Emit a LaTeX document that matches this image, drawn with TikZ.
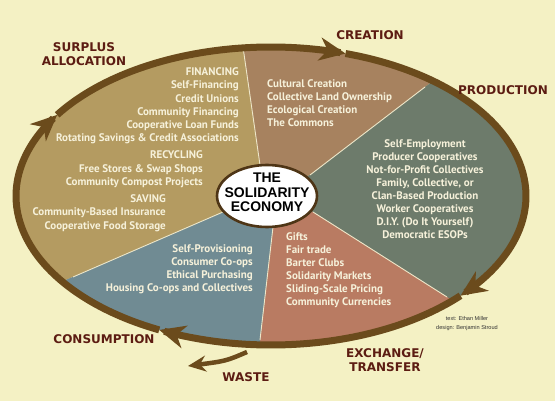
\documentclass[tikz,border=0pt]{standalone}
\usepackage{fontspec}
\setmainfont{PT Sans}
\newfontfamily\labfont{DejaVu Sans}
\newfontfamily\corefont{Liberation Sans}
\newfontfamily\credfont{Liberation Sans}
\usetikzlibrary{arrows.meta,shapes.geometric}
\definecolor{bg}{HTML}{F4F1C4}
\definecolor{goldsec}{HTML}{B49B61}
\definecolor{brownsec}{HTML}{A7825F}
\definecolor{greensec}{HTML}{6D7B6B}
\definecolor{salmonsec}{HTML}{B97B62}
\definecolor{bluesec}{HTML}{708B93}
\definecolor{rimcol}{HTML}{6B4B1C}
\definecolor{labred}{HTML}{5C1C12}
\definecolor{secwhite}{HTML}{F6F1DA}
\definecolor{divcol}{HTML}{EDE6C8}
\definecolor{corebord}{HTML}{4E3516}
\begin{document}
\begin{tikzpicture}[x=1pt,y=-1pt,
  sectxt/.style={text=secwhite, font=\fontsize{11}{13}\selectfont\bfseries, inner sep=0pt, text height=7.7pt, text depth=2.2pt},
  outlab/.style={text=labred, font=\labfont\bfseries\fontsize{12}{14}\selectfont, align=center, inner sep=0pt},
  credit/.style={text=black!80, font=\credfont\fontsize{5.6}{9}\selectfont, align=center, inner sep=0pt},
  rim/.style={draw=rimcol, line width=7pt, -{Stealth[length=26pt,width=23pt,inset=8pt]}},
  wastearr/.style={draw=rimcol, line width=4.5pt, -{Stealth[length=18pt,width=16pt,inset=6pt]}},
  divline/.style={draw=divcol, line width=0.9pt},
  coreell/.style={ellipse, draw=corebord, line width=2.6pt, fill=white, minimum width=100pt, minimum height=62pt, inner sep=0pt},
  coretxt/.style={font=\corefont\bfseries\fontsize{14}{14.5}\selectfont, align=center, inner sep=0pt, text=black}
]
\useasboundingbox (0,0) rectangle (555,401);
\fill[bg] (0,0) rectangle (555,401);

% dividing line points
\coordinate (c0) at (267,196);
\coordinate (l1i) at (260,165); \coordinate (l1o) at (243,47);  \coordinate (l1f) at (236,0);
\coordinate (l2i) at (310,175); \coordinate (l2o) at (425,87);  \coordinate (l2f) at (540,-1);
\coordinate (l3i) at (313,212); \coordinate (l3o) at (447,297); \coordinate (l3f) at (581,382);
\coordinate (l4i) at (273,227); \coordinate (l4o) at (260,340); \coordinate (l4f) at (251,420);
\coordinate (l5i) at (223,212); \coordinate (l5o) at (73,277);  \coordinate (l5f) at (-50,330);

\begin{scope}
  \clip (271,196) ellipse [x radius=255pt, y radius=149pt];
  \fill[goldsec] (c0) -- (l5i) -- (l5f) -- (-50,0) -- (l1f) -- (l1i) -- cycle;
  \fill[brownsec] (c0) -- (l1i) -- (l1f) -- (l2f) -- (l2i) -- cycle;
  \fill[greensec] (c0) -- (l2i) -- (l2f) -- (620,-1) -- (620,400) -- (l3f) -- (l3i) -- cycle;
  \fill[salmonsec] (c0) -- (l3i) -- (l3f) -- (581,420) -- (l4f) -- (l4i) -- cycle;
  \fill[bluesec] (c0) -- (l4i) -- (l4f) -- (-50,420) -- (l5f) -- (l5i) -- cycle;
\end{scope}

\draw[divline] (l1i) -- (l1o);
\draw[divline] (l2i) -- (l2o);
\draw[divline] (l3i) -- (l3o);
\draw[divline] (l4i) -- (l4o);
\draw[divline] (l5i) -- (l5o);

% rim arrows
\draw[rim] plot[smooth, domain=116:213, samples=40, variable=\a] ({271+255*cos(\a)},{196+149*sin(\a)});
\draw[rim] plot[smooth, domain=213:287, samples=40, variable=\a] ({271+255*cos(\a)},{196+149*sin(\a)});
\draw[rim] plot[smooth, domain=287:402, samples=40, variable=\a] ({271+255*cos(\a)},{196+149*sin(\a)});
\draw[rim] plot[smooth, domain=402:476, samples=40, variable=\a] ({271+255*cos(\a)},{196+149*sin(\a)});

% waste arrow
\coordinate (w1) at (247,352);
\coordinate (w2) at (188,366);
\draw[wastearr] (w1) .. controls (226,361) .. (w2);

% core
\node[coreell] (core) at (267,196) {};
\node[coretxt] (coretext) at (267,192.5) {THE\\SOLIDARITY\\ECONOMY};

% gold sector
\foreach \s [count=\i from 0] in {FINANCING, Self-Financing, Credit Unions, Community Financing, Cooperative Loan Funds, Rotating Savings \& Credit Associations}
  \node[sectxt, anchor=east] (fin\i) at (239, 73+13.2*\i) {\s};
\foreach \s [count=\i from 0] in {RECYCLING, Free Stores \& Swap Shops, Community Compost Projects}
  \node[sectxt, anchor=east] (rec\i) at (203, 156+13.5*\i) {\s};
\foreach \s [count=\i from 0] in {SAVING, Community-Based Insurance, Cooperative Food Storage}
  \node[sectxt, anchor=east] (sav\i) at (166, 199.5+13.5*\i) {\s};
% brown sector
\foreach \s [count=\i from 0] in {Cultural Creation, Collective Land Ownership, Ecological Creation, The Commons}
  \node[sectxt, anchor=west] (cre\i) at (267, 85+13*\i) {\s};
% green sector
\foreach \s [count=\i from 0] in {Self-Employment, Producer Cooperatives, Not-for-Profit Collectives, {Family, Collective, or}, Clan-Based Production, Worker Cooperatives, D.I.Y. (Do It Yourself), Democratic ESOPs}
  \node[sectxt] (pro\i) at (425, 144.5+13*\i) {\s};
% salmon sector
\foreach \s [count=\i from 0] in {Gifts, Fair trade, Barter Clubs, Solidarity Markets, Sliding-Scale Pricing, Community Currencies}
  \node[sectxt, anchor=west] (exc\i) at (286, 238+13*\i) {\s};
% blue sector
\foreach \s [count=\i from 0] in {Self-Provisioning, Consumer Co-ops, Ethical Purchasing, Housing Co-ops and Collectives}
  \node[sectxt, anchor=east] (con\i) at (253, 250+13*\i) {\s};

% outer labels
\node[outlab] (surplus) at (84,54) {SURPLUS\\ALLOCATION};
\node[outlab] (creation) at (370,35) {CREATION};
\node[outlab] (production) at (503,90) {PRODUCTION};
\node[outlab] (exchange) at (385,360) {EXCHANGE/\\TRANSFER};
\node[outlab] (consumption) at (104,339) {CONSUMPTION};
\node[outlab] (waste) at (246,377) {WASTE};

\node[credit] (cred) at (467,323.5) {text: Ethan Miller\\design: Benjamin Stroud};
\end{tikzpicture}
\end{document}
